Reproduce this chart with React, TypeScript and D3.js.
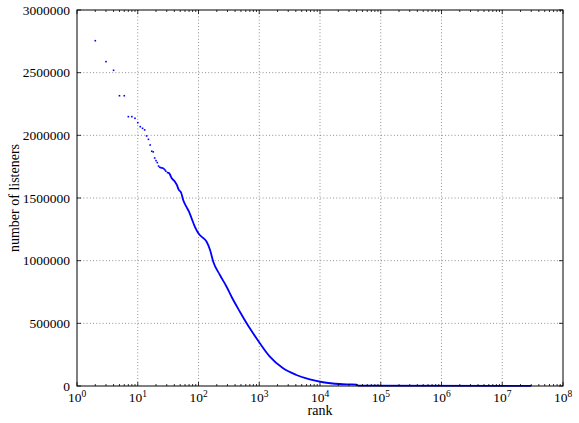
import React from "react";
import * as d3 from "d3";

const sparseRanks = [2, 3, 4, 5, 6, 7, 8, 9, 10, 11, 12, 13, 14, 15, 16, 17, 18, 19, 20, 21, 22, 23, 24, 25, 26, 27, 28, 29];
const sparseValues = [2755000, 2588000, 2519000, 2316000, 2316000, 2149000, 2149000, 2136000, 2101000, 2069000, 2056000, 2043000, 1995000, 1968000, 1923000, 1873000, 1868000, 1819000, 1798000, 1782000, 1755000, 1745000, 1742000, 1740000, 1738000, 1732000, 1724000, 1714000];

const denseRanks = [30, 33, 36, 41, 44, 47, 52, 56, 63, 70, 77, 87, 95, 105, 120, 136, 155, 175, 225, 290, 350, 480, 700, 1023, 1494, 2470, 4080, 6790, 11200, 21200, 30000, 40000, 43000, 30000000];
const denseValues = [1705000, 1697000, 1660000, 1630000, 1604000, 1569000, 1540000, 1484000, 1431000, 1390000, 1338000, 1271000, 1235000, 1205000, 1180000, 1151000, 1085000, 992000, 886000, 792000, 712000, 593000, 460000, 341000, 234000, 141000, 88000, 53000, 30000, 16000, 13000, 11000, 3000, 1500];

const xExponents = [0, 1, 2, 3, 4, 5, 6, 7, 8];
const yTicks = [0, 500000, 1000000, 1500000, 2000000, 2500000, 3000000];

const W = 579;
const H = 423;
const M = { left: 77, right: 563, top: 10, bottom: 386 };
const FONT = "'Liberation Serif', 'DejaVu Serif', serif";

export default function App() {
  const x = d3.scaleLog().domain([1, 1e8]).range([M.left, M.right]);
  const y = d3.scaleLinear().domain([0, 3000000]).range([M.bottom, M.top]);

  const minor: number[] = [];
  for (let e = 0; e < 8; e++) {
    for (let k = 2; k <= 9; k++) minor.push(k * Math.pow(10, e));
  }

  const denseData = denseRanks.map((r, i) => [r, denseValues[i]] as [number, number]);
  const line = d3
    .line<[number, number]>()
    .x((d) => x(d[0]))
    .y((d) => y(d[1]))
    .curve(d3.curveMonotoneX);

  const grid = "#444";
  return (
    <svg width={W} height={H} style={{ position: "absolute", left: 0, top: 0, background: "#fff" }} fontFamily={FONT}>
      <rect x={0} y={0} width={W} height={H} fill="#fff" />
      {xExponents.slice(1, -1).map((e) => (
        <line key={"gx" + e} x1={x(Math.pow(10, e))} x2={x(Math.pow(10, e))} y1={M.top} y2={M.bottom} stroke={grid} strokeWidth={0.6} strokeDasharray="1,2.2" />
      ))}
      {yTicks.slice(1, -1).map((v) => (
        <line key={"gy" + v} x1={M.left} x2={M.right} y1={y(v)} y2={y(v)} stroke={grid} strokeWidth={0.6} strokeDasharray="1,2.2" />
      ))}
      <path d={line(denseData) || ""} fill="none" stroke="#0000ff" strokeWidth={1.8} />
      {sparseRanks.map((r, i) => (
        <rect key={"p" + i} x={x(r) - 0.8} y={y(sparseValues[i]) - 0.8} width={1.6} height={1.6} fill="#0000ff" />
      ))}
      {minor.map((v, i) => (
        <g key={"mt" + i}>
          <line x1={x(v)} x2={x(v)} y1={M.bottom} y2={M.bottom - 2} stroke="#000" strokeWidth={0.8} />
          <line x1={x(v)} x2={x(v)} y1={M.top} y2={M.top + 2} stroke="#000" strokeWidth={0.8} />
        </g>
      ))}
      {xExponents.map((e) => (
        <g key={"xt" + e}>
          <line x1={x(Math.pow(10, e))} x2={x(Math.pow(10, e))} y1={M.bottom} y2={M.bottom - 4} stroke="#000" strokeWidth={0.8} />
          <line x1={x(Math.pow(10, e))} x2={x(Math.pow(10, e))} y1={M.top} y2={M.top + 4} stroke="#000" strokeWidth={0.8} />
          <text x={x(Math.pow(10, e))} y={401.5} textAnchor="middle" fontSize={13.5} fill="#000">
            10<tspan fontSize={9.5} dy={-5}>{e}</tspan>
          </text>
        </g>
      ))}
      {yTicks.map((v) => (
        <g key={"yt" + v}>
          <line x1={M.left} x2={M.left + 4} y1={y(v)} y2={y(v)} stroke="#000" strokeWidth={0.8} />
          <line x1={M.right} x2={M.right - 4} y1={y(v)} y2={y(v)} stroke="#000" strokeWidth={0.8} />
          <text x={M.left - 7} y={y(v)} dy="0.35em" textAnchor="end" fontSize={13.5} fill="#000">
            {v}
          </text>
        </g>
      ))}
      <rect x={M.left} y={M.top} width={M.right - M.left} height={M.bottom - M.top} fill="none" stroke="#000" strokeWidth={1} />
      <text x={(M.left + M.right) / 2} y={415} textAnchor="middle" fontSize={14} fill="#000">rank</text>
      <text transform={`translate(19,${(M.top + M.bottom) / 2}) rotate(-90)`} textAnchor="middle" fontSize={14} fill="#000">number of listeners</text>
    </svg>
  );
}
